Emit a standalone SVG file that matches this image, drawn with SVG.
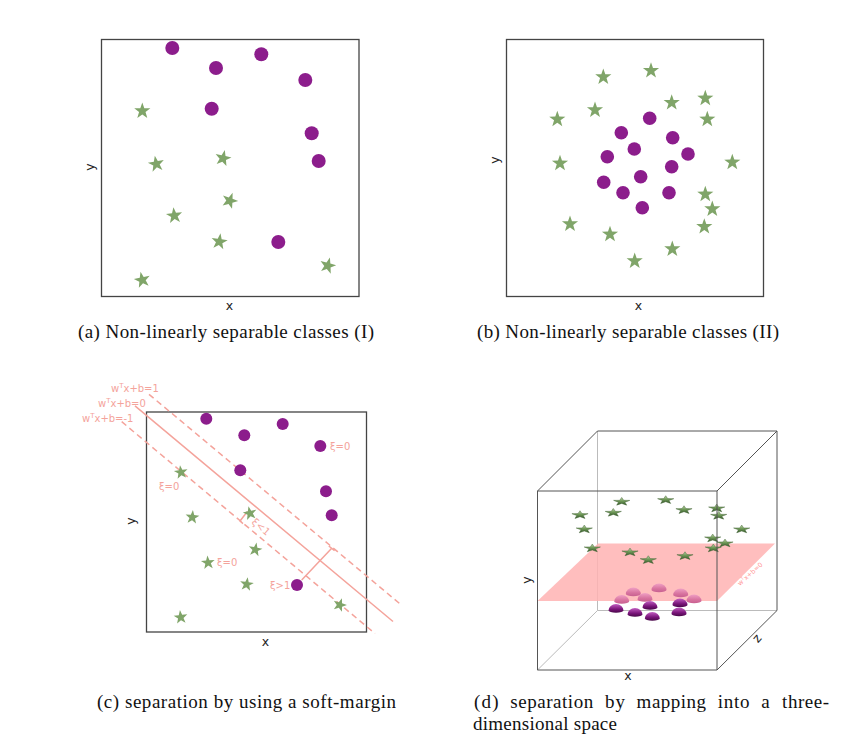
<svg xmlns="http://www.w3.org/2000/svg" width="859" height="756" viewBox="0 0 859 756">
<style>
.box{fill:none;stroke:#444;stroke-width:1.3}
.dot{fill:#8c1d8c}
.star{fill:#80a569}
.ax{font-family:"DejaVu Sans",sans-serif;font-size:12.5px;fill:#222}
.cap{font-family:"Liberation Serif",serif;font-size:19px;fill:#111}
.lbl{font-family:"DejaVu Sans",sans-serif;font-size:10px;fill:#f4a39b}
.sl{fill:none;stroke:#f4a39b;stroke-width:1.5}
.dl{fill:none;stroke:#f4a39b;stroke-width:1.5;stroke-dasharray:6 4}
.edgeD{fill:none;stroke:#555;stroke-width:1}
.edgeL{fill:none;stroke:#bbb;stroke-width:1}
</style>
<defs>
<path id="st" d="M0,-8.5 L1.998,-2.751 L8.084,-2.627 L3.234,1.051 L4.996,6.877 L0,3.4 L-4.996,6.877 L-3.234,1.051 L-8.084,-2.627 L-1.998,-2.751 Z"/>
<linearGradient id="gs" x1="0" y1="0" x2="0" y2="1">
<stop offset="0" stop-color="#c2d8ae"/><stop offset="0.45" stop-color="#729c5a"/><stop offset="1" stop-color="#34582a"/>
</linearGradient>
<linearGradient id="gp" x1="0" y1="0" x2="0" y2="1">
<stop offset="0" stop-color="#c25ec2"/><stop offset="0.6" stop-color="#7a157a"/><stop offset="1" stop-color="#4a084a"/>
</linearGradient>
<linearGradient id="gk" x1="0" y1="0" x2="0" y2="1">
<stop offset="0" stop-color="#f0a0c4"/><stop offset="0.6" stop-color="#d8739f"/><stop offset="1" stop-color="#c86090"/>
</linearGradient>
<g id="s3"><path d="M0,-8.5 L1.998,-2.751 L8.084,-2.627 L3.234,1.051 L4.996,6.877 L0,3.4 L-4.996,6.877 L-3.234,1.051 L-8.084,-2.627 L-1.998,-2.751 Z" transform="scale(1.0,0.5)" fill="url(#gs)" stroke="#3d5f30" stroke-width="0.6"/></g>
<path id="dp" d="M-7.5,0 A7.5,6.5 0 0 1 7.5,0 A7.5,2.2 0 0 1 -7.5,0 Z" fill="url(#gp)"/>
<path id="dk" d="M-7.5,0 A7.5,6.5 0 0 1 7.5,0 A7.5,2.2 0 0 1 -7.5,0 Z" fill="url(#gk)"/>
</defs>

<!-- Panel (a) -->
<g id="panel-a">
<rect class="box" x="101.5" y="39.5" width="257.5" height="257"/>
<g id="a-dots" class="dot">
<circle cx="172.3" cy="48" r="7"/><circle cx="216" cy="68" r="7"/><circle cx="261.3" cy="54.3" r="7"/><circle cx="305.3" cy="80" r="7"/>
<circle cx="211.7" cy="108.7" r="7"/><circle cx="311.7" cy="133.3" r="7"/><circle cx="318.7" cy="161" r="7"/><circle cx="278.3" cy="242" r="7"/>
</g>
<g id="a-stars" class="star">
<use href="#st" transform="translate(142.3,111)"/>
<use href="#st" transform="translate(156.3,164) rotate(-10)"/>
<use href="#st" transform="translate(223,158.3) rotate(12)"/>
<use href="#st" transform="translate(229.7,200.7) rotate(20)"/>
<use href="#st" transform="translate(174.3,215.7) rotate(-6)"/>
<use href="#st" transform="translate(219.3,241.7) rotate(8)"/>
<use href="#st" transform="translate(327.7,265.7) rotate(15)"/>
<use href="#st" transform="translate(142.3,280) rotate(-12)"/>
</g>
<text class="ax" x="229.5" y="310" text-anchor="middle">x</text>
<text class="ax" transform="translate(94,167) rotate(-90)" text-anchor="middle">y</text>
<text class="cap" x="78" y="338" textLength="296" lengthAdjust="spacing">(a) Non-linearly separable classes (I)</text>
</g>

<!-- Panel (b) -->
<g id="panel-b">
<rect class="box" x="506.5" y="39.5" width="257" height="257"/>
<g id="b-dots" class="dot">
<circle cx="649.7" cy="118.3" r="6.8"/><circle cx="621.3" cy="132.7" r="6.8"/><circle cx="672.7" cy="137.7" r="6.8"/><circle cx="634.3" cy="149" r="6.8"/>
<circle cx="607.3" cy="156.7" r="6.8"/><circle cx="688" cy="154" r="6.8"/><circle cx="671.7" cy="166.7" r="6.8"/><circle cx="640.7" cy="176.7" r="6.8"/>
<circle cx="603.7" cy="182.3" r="6.8"/><circle cx="623" cy="192.7" r="6.8"/><circle cx="669" cy="192.7" r="6.8"/><circle cx="642.3" cy="207.7" r="6.8"/>
</g>
<g id="b-stars" class="star">
<use href="#st" transform="translate(603.3,77)"/>
<use href="#st" transform="translate(651,70.7)"/>
<use href="#st" transform="translate(671.7,102.7)"/>
<use href="#st" transform="translate(705.3,98.3)"/>
<use href="#st" transform="translate(595,110)"/>
<use href="#st" transform="translate(557.3,119.3)"/>
<use href="#st" transform="translate(707.3,119.3)"/>
<use href="#st" transform="translate(560,163.3)"/>
<use href="#st" transform="translate(732.3,162.3)"/>
<use href="#st" transform="translate(705.3,194.3)"/>
<use href="#st" transform="translate(712.3,209)"/>
<use href="#st" transform="translate(704.3,226.7)"/>
<use href="#st" transform="translate(570,224)"/>
<use href="#st" transform="translate(610,234.3)"/>
<use href="#st" transform="translate(672.3,249)"/>
<use href="#st" transform="translate(634.7,261)"/>
</g>
<text class="ax" x="638.5" y="310" text-anchor="middle">x</text>
<text class="ax" transform="translate(499,160) rotate(-90)" text-anchor="middle">y</text>
<text class="cap" x="477" y="338" textLength="302" lengthAdjust="spacing">(b) Non-linearly separable classes (II)</text>
</g>

<!-- Panel (c) -->
<g id="panel-c">
<rect class="box" x="146.5" y="412" width="220" height="220"/>
<g id="connectors">
<line class="dl" x1="149" y1="394.3" x2="402" y2="605.5"/>
<line class="sl" x1="135" y1="405.8" x2="393" y2="621.5"/>
<line class="dl" x1="121.7" y1="421.7" x2="375" y2="633.5"/>
<path class="sl" d="M301.7,580 L331.7,548.3 M328.8,546 L334.6,550.6" stroke-width="1.3"/>
<path class="sl" d="M250,514.6 L247,512 L240,521 L243,523.6" stroke-width="1.2"/>
</g>
<g id="c-dots" class="dot">
<circle cx="206.3" cy="418.7" r="6"/><circle cx="244.3" cy="435.3" r="6"/><circle cx="282.7" cy="424" r="6"/><circle cx="320.3" cy="446" r="6"/>
<circle cx="240.3" cy="470.3" r="6"/><circle cx="326" cy="491.3" r="6"/><circle cx="331.7" cy="515.3" r="6"/><circle cx="297" cy="585" r="6"/>
</g>
<g id="c-stars" class="star">
<use href="#st" transform="translate(181,472.3) scale(0.85) rotate(-8)"/>
<use href="#st" transform="translate(192.3,517.3) scale(0.85) rotate(5)"/>
<use href="#st" transform="translate(250,513.3) scale(0.85) rotate(-12)"/>
<use href="#st" transform="translate(255.3,549.7) scale(0.85) rotate(10)"/>
<use href="#st" transform="translate(208,562.7) scale(0.85) rotate(-5)"/>
<use href="#st" transform="translate(246.7,584.3) scale(0.85) rotate(8)"/>
<use href="#st" transform="translate(339.7,605) scale(0.85) rotate(18)"/>
<use href="#st" transform="translate(180.7,617.3) scale(0.85) rotate(-6)"/>
</g>
<g id="c-labels" class="lbl">
<text x="111" y="392">w<tspan font-size="7" dy="-4">T</tspan><tspan dy="4">x+b=1</tspan></text>
<text x="98" y="407">w<tspan font-size="7" dy="-4">T</tspan><tspan dy="4">x+b=0</tspan></text>
<text x="82" y="422">w<tspan font-size="7" dy="-4">T</tspan><tspan dy="4">x+b=-1</tspan></text>
<text x="330" y="450">ξ=0</text>
<text x="159" y="490">ξ=0</text>
<text x="217" y="566">ξ=0</text>
<text x="270" y="589">ξ&gt;1</text>
<text transform="translate(251,523) rotate(40)">ξ&lt;1</text>
</g>
<text class="ax" x="265.5" y="646" text-anchor="middle">x</text>
<text class="ax" transform="translate(134.5,521) rotate(-90)" text-anchor="middle">y</text>
<text class="cap" x="97" y="708" textLength="299" lengthAdjust="spacing">(c) separation by using a soft-margin</text>
</g>

<!-- Panel (d) -->
<g id="panel-d">
<path class="edgeL" d="M597.5,431 L597.5,610.5 L777,610.5 M597.5,610.5 L537.5,670"/>
<g id="d-stars">
<use href="#s3" transform="translate(621.7,501.7)"/>
<use href="#s3" transform="translate(665.7,500)"/>
<use href="#s3" transform="translate(580,515)"/>
<use href="#s3" transform="translate(613.3,512.7)"/>
<use href="#s3" transform="translate(684,510)"/>
<use href="#s3" transform="translate(716.7,508.3)"/>
<use href="#s3" transform="translate(718.7,515.7)"/>
<use href="#s3" transform="translate(584.3,529.3)"/>
<use href="#s3" transform="translate(741.7,529.3)"/>
<use href="#s3" transform="translate(712.7,538.3)"/>
</g>
<polygon id="plane" points="537.5,601 717,601 775,543.5 598,543.5" fill="#ffb3b3" fill-opacity="0.85"/>
<g id="d-stars-front">
<use href="#s3" transform="translate(725,543.3)"/>
<use href="#s3" transform="translate(592.3,548.3)"/>
<use href="#s3" transform="translate(713.3,548.3)"/>
<use href="#s3" transform="translate(630,552.3)"/>
<use href="#s3" transform="translate(648.3,560)"/>
<use href="#s3" transform="translate(685,556)"/>
</g>
<g id="d-pink">
<use href="#dk" transform="translate(659,590)"/>
<use href="#dk" transform="translate(633.3,594)"/>
<use href="#dk" transform="translate(680.7,595)"/>
<use href="#dk" transform="translate(645,599.5)"/>
<use href="#dk" transform="translate(621.7,601.5)"/>
<use href="#dk" transform="translate(694,601)"/>
</g>
<g id="d-purple">
<use href="#dp" transform="translate(680,605)"/>
<use href="#dp" transform="translate(650,607.5)"/>
<use href="#dp" transform="translate(616,610.5)"/>
<use href="#dp" transform="translate(679,614)"/>
<use href="#dp" transform="translate(635,614.5)"/>
<use href="#dp" transform="translate(652.3,618.5)"/>
</g>
<path class="edgeD" d="M537.5,491 L717,491 L717,670 L537.5,670 Z M537.5,491 L597.5,431 L777,431 L777,610.5 L717,670 M717,491 L777,431"/>
<text transform="translate(740,586) rotate(-42)" font-family="DejaVu Sans,sans-serif" font-size="6.5" fill="#ff9a9a">w<tspan font-size="4.5" dy="-2.5">T</tspan><tspan dy="2.5">x+b=0</tspan></text>
<text class="ax" x="628" y="680" text-anchor="middle">x</text>
<text class="ax" transform="translate(530.5,580) rotate(-90)" text-anchor="middle">y</text>
<text class="ax" transform="translate(760,641) rotate(-50)" text-anchor="middle">z</text>
<g class="cap">
<text x="474" y="708" textLength="24.5" lengthAdjust="spacing">(d)</text>
<text x="510.2" y="708" textLength="83" lengthAdjust="spacing">separation</text>
<text x="604.9" y="708" textLength="20" lengthAdjust="spacing">by</text>
<text x="636.6" y="708" textLength="69.5" lengthAdjust="spacing">mapping</text>
<text x="717.8" y="708" textLength="31.7" lengthAdjust="spacing">into</text>
<text x="761.2" y="708">a</text>
<text x="782.1" y="708" textLength="47" lengthAdjust="spacing">three-</text>
<text x="473" y="730" textLength="144" lengthAdjust="spacing">dimensional space</text>
</g>
</g>
</svg>
